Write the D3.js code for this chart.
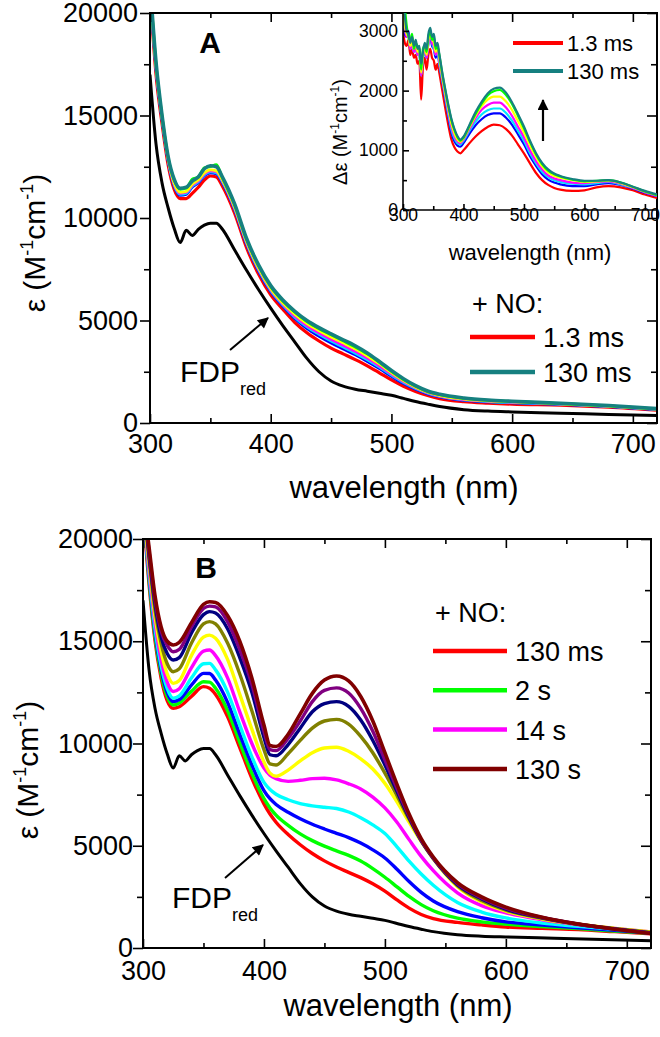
<!DOCTYPE html>
<html><head><meta charset="utf-8">
<script src="https://cdn.jsdelivr.net/npm/d3@7"></script>
<style>body{margin:0;background:#fff}</style>
</head><body><svg id="c" width="660" height="1037" xmlns="http://www.w3.org/2000/svg"></svg>
<script>
// ---------------- DATA ----------------
// wavelength grid for FDPred and panel A spectra
const wlA = [300,305,310,315,320,325,330,335,340,345,350,355,360,370,380,390,400,410,420,430,440,450,460,470,480,490,500,510,520,530,540,560,580,600,640,680,720];
const fdpRed = [17000,13600,11700,10500,9500,8800,9400,9150,9450,9650,9750,9750,9450,8450,7450,6500,5600,4750,3950,3150,2500,2050,1800,1650,1550,1450,1350,1200,1050,920,800,650,580,540,480,420,360];
const aRed = [21000,17000,14600,12600,11400,10950,10950,11200,11500,11850,12050,12000,11550,10250,8550,7250,6250,5550,4900,4400,4000,3650,3370,3090,2790,2450,2100,1790,1540,1340,1190,1040,970,920,870,770,620];
const aBlue = [21200,17200,14750,12750,11550,11100,11150,11500,11700,12050,12200,12150,11700,10400,8700,7400,6400,5700,5080,4600,4230,3900,3610,3320,3000,2650,2270,1920,1640,1420,1270,1100,1030,980,910,800,650];
const aCyan = [21200,17250,14800,12800,11600,11150,11200,11550,11750,12100,12250,12200,11750,10450,8750,7450,6450,5750,5150,4680,4320,3990,3700,3400,3080,2720,2330,1970,1680,1450,1290,1120,1040,990,920,810,660];
const aMagenta = [21300,17300,14850,12850,11650,11200,11250,11600,11800,12150,12300,12250,11800,10500,8800,7500,6500,5800,5200,4750,4400,4080,3790,3490,3160,2790,2390,2020,1720,1470,1310,1140,1060,1010,930,820,670];
const aYellow = [21400,17400,14900,12900,11700,11250,11300,11650,11850,12200,12350,12300,11850,10550,8850,7550,6550,5850,5300,4850,4500,4200,3910,3610,3270,2880,2460,2070,1750,1500,1340,1170,1080,1030,940,830,680];
const aGreen = [21500,17500,14950,12950,11850,11400,11450,11900,12000,12450,12500,12600,11950,10650,8950,7650,6650,5950,5400,4950,4600,4300,4010,3710,3370,2960,2520,2120,1790,1530,1380,1200,1100,1050,950,840,690];
const aTeal = [21500,17600,15000,13000,11900,11450,11500,11800,12000,12400,12550,12500,12000,10700,9000,7700,6700,6000,5450,5000,4650,4350,4060,3770,3420,3000,2560,2160,1820,1560,1400,1220,1120,1060,960,850,700];

// inset (difference spectra)
const wlI = [300,303,306,309,312,315,318,321,324,327,330,333,336,339,342,345,348,351,354,357,360,365,370,375,380,385,390,395,400,410,420,430,440,450,460,470,480,490,500,510,520,530,540,550,560,580,600,620,640,660,680,700,720];
const iRed = [3000,2800,2750,2850,2600,2700,2550,2600,2450,2500,1850,2400,2550,2350,2600,2700,2550,2500,2350,2450,2300,2000,1700,1420,1180,1050,980,950,1000,1120,1230,1320,1390,1430,1420,1360,1250,1100,950,780,620,500,420,370,340,320,330,380,400,380,330,260,200];
const iBlue = [3150,2950,2900,3000,2750,2800,2700,2750,2600,2650,2300,2550,2700,2550,2800,2900,2750,2700,2550,2650,2450,2150,1850,1560,1300,1150,1080,1060,1120,1280,1420,1520,1590,1620,1620,1550,1430,1270,1100,900,740,600,510,460,430,400,400,430,450,420,360,290,230];
const iCyan = [3200,3000,2950,2900,2700,2750,2650,2700,2600,2600,2250,2550,2700,2550,2800,2950,2800,2700,2600,2650,2450,2170,1880,1600,1350,1200,1120,1100,1160,1330,1480,1600,1670,1700,1700,1630,1500,1330,1160,950,780,640,550,500,470,440,430,450,470,430,370,300,240];
const iMagenta = [3250,3050,2900,2950,2700,2800,2650,2750,2600,2650,2250,2600,2700,2550,2800,2950,2800,2750,2600,2700,2500,2200,1920,1650,1400,1240,1150,1120,1180,1360,1540,1680,1760,1800,1800,1720,1580,1400,1220,1000,820,680,580,530,500,460,450,470,480,440,370,300,240];
const iYellow = [3300,3100,2950,2900,2750,2800,2700,2800,2650,2700,2300,2600,2750,2600,2850,2950,2850,2800,2650,2750,2550,2230,1950,1690,1450,1280,1180,1140,1200,1390,1580,1740,1850,1900,1900,1820,1680,1490,1300,1080,890,730,630,570,540,500,470,480,490,450,380,310,250];
const iGreen = [3700,3400,3100,2900,2850,2950,2700,2800,2750,2700,2350,2700,2750,2650,2900,3000,2850,2900,2700,2750,2600,2280,2000,1740,1510,1340,1220,1160,1210,1410,1610,1780,1920,1990,2010,1930,1780,1580,1370,1140,930,770,660,600,560,510,480,490,500,460,390,310,250];
const iTeal = [3600,3250,3000,2950,2800,2900,2750,2850,2700,2750,2450,2650,2800,2700,2950,3050,2900,2950,2750,2800,2620,2300,2020,1760,1530,1360,1240,1180,1230,1430,1640,1810,1950,2030,2050,1970,1810,1610,1400,1160,950,790,680,610,570,520,490,490,500,460,390,320,260];

// panel B
const wlB = [300,305,310,315,320,325,330,340,350,355,360,370,380,390,400,405,410,420,430,440,450,460,470,480,490,500,510,520,530,540,560,580,600,630,660,690,720];
const b130ms = [21500,17800,15000,13200,12100,11720,11800,12300,12780,12700,12400,11300,9800,8300,7050,6550,6150,5550,5050,4620,4260,3960,3700,3440,3140,2780,2350,1950,1640,1440,1250,1130,1030,960,900,800,700];
const b2s = [21500,18000,15200,13400,12300,11880,11980,12550,13020,13000,12700,11600,10050,8550,7300,6850,6500,6000,5580,5250,4980,4750,4530,4250,3880,3460,2990,2520,2120,1820,1460,1280,1170,1050,950,830,720];
const bBlue = [21500,18200,15400,13600,12500,12050,12150,12850,13430,13420,13100,12000,10450,8950,7700,7300,7020,6640,6320,6050,5820,5610,5400,5130,4800,4400,3850,3250,2720,2300,1780,1480,1280,1120,990,860,730];
const bCyan = [21500,18300,15600,13800,12700,12210,12330,13200,13900,13920,13600,12500,10900,9350,8100,7750,7520,7250,7060,6950,6880,6820,6650,6370,6020,5600,4950,4250,3620,3070,2230,1760,1470,1220,1060,910,760];
const b14s = [21500,18500,15900,14100,13000,12540,12680,13700,14520,14570,14300,13200,11550,10000,8800,8450,8280,8150,8200,8280,8300,8220,8030,7780,7380,6850,6150,5300,4480,3780,2700,2070,1720,1380,1140,960,790];
const bYellow = [21500,18800,16200,14500,13400,12940,13080,14300,15200,15300,15150,14100,12400,10700,9100,8550,8400,8700,9150,9550,9780,9820,9620,9250,8750,8050,7150,6150,5200,4350,3000,2250,1800,1420,1160,960,780];
const bOlive = [22000,19000,16500,14900,13900,13510,13650,14900,15850,15960,15850,14900,13400,11600,9700,9000,8950,9500,10150,10750,11100,11180,10950,10350,9550,8550,7450,6300,5250,4400,3050,2320,1850,1450,1160,950,760];
const bNavy = [22000,19200,16800,15200,14400,14080,14200,15400,16300,16450,16380,15600,14200,12500,10300,9450,9400,9950,10750,11550,11950,12050,11820,11150,10150,8950,7650,6380,5250,4380,3100,2400,1900,1480,1160,930,740];
const bPurple = [22000,19400,17000,15500,14800,14490,14600,15700,16600,16720,16680,15950,14600,12900,10600,9700,9650,10250,11100,12050,12600,12720,12470,11720,10600,9200,7800,6450,5270,4400,3150,2450,1950,1490,1160,920,720];
const b130s = [22000,19600,17200,15700,15000,14820,14950,15900,16800,16930,16900,16250,15000,13200,10900,9900,9850,10450,11450,12450,13100,13300,13060,12300,11100,9550,8000,6550,5350,4450,3200,2500,2000,1500,1170,920,710];

const xMajor = [300,400,500,600,700], xMinor = [350,450,550,650];
const yMajor = [0,5000,10000,15000,20000], yMinor = [2500,7500,12500,17500];
const iyMajor = [0,1000,2000,3000], iyMinor = [500,1500,2500];
const legendA = ["1.3 ms","130 ms"];
const legendB = ["130 ms","2 s","14 s","130 s"];

// ---------------- DRAW ----------------
const FONT = '"Liberation Sans", Arial, Helvetica, sans-serif';
const svg = d3.select("#c").attr("font-family", FONT);
const defs = svg.append("defs");
defs.append("marker").attr("id","ah").attr("viewBox","0 0 10 10").attr("refX",9).attr("refY",5)
  .attr("markerWidth",13).attr("markerHeight",11).attr("markerUnits","userSpaceOnUse").attr("orient","auto")
  .append("path").attr("d","M0,0 L10,5 L0,10 z").attr("fill","#000");

const zip = (w, v) => w.map((d,i)=>[d, v[i]]);

function styleAxis(sel, fs) {
  sel.select(".domain").remove();
  sel.selectAll("line").attr("stroke","#000").attr("stroke-width",1.6);
  sel.selectAll("text").attr("font-size",fs).attr("fill","#000").attr("font-family",FONT);
}

function mainPanel(cfg) {
  const x = d3.scaleLinear().domain([300,720]).range([cfg.L, cfg.R]);
  const y = d3.scaleLinear().domain([0,20000]).range([cfg.B, cfg.T]);
  const g = svg.append("g");
  const cid = "clip" + cfg.id;
  defs.append("clipPath").attr("id", cid).append("rect")
    .attr("x", cfg.L).attr("y", cfg.T).attr("width", cfg.R - cfg.L).attr("height", cfg.B - cfg.T);
  const line = d3.line().x(d=>x(d[0])).y(d=>y(d[1])).curve(d3.curveMonotoneX);
  const lg = g.append("g").attr("clip-path", `url(#${cid})`);
  cfg.series.forEach(s => {
    lg.append("path").attr("d", line(zip(s.w, s.v))).attr("fill","none")
      .attr("stroke", s.c).attr("stroke-width", s.sw).attr("stroke-linejoin","round");
  });
  const fs = 27;
  g.append("g").attr("transform",`translate(0,${cfg.B})`)
    .call(d3.axisBottom(x).tickValues(xMajor).tickSize(-9).tickPadding(cfg.xpad).tickFormat(d3.format("d"))).call(s=>styleAxis(s,fs));
  g.append("g").attr("transform",`translate(0,${cfg.B})`)
    .call(d3.axisBottom(x).tickValues(xMinor).tickSize(-5).tickFormat("")).call(s=>styleAxis(s,fs));
  g.append("g").attr("transform",`translate(0,${cfg.T})`)
    .call(d3.axisTop(x).tickValues(xMajor).tickSize(-9).tickFormat("")).call(s=>styleAxis(s,fs));
  g.append("g").attr("transform",`translate(0,${cfg.T})`)
    .call(d3.axisTop(x).tickValues(xMinor).tickSize(-5).tickFormat("")).call(s=>styleAxis(s,fs));
  g.append("g").attr("transform",`translate(${cfg.L},0)`)
    .call(d3.axisLeft(y).tickValues(yMajor).tickSize(10).tickPadding(cfg.ypad).tickFormat(d3.format("d"))).call(s=>styleAxis(s,fs));
  g.append("g").attr("transform",`translate(${cfg.L},0)`)
    .call(d3.axisLeft(y).tickValues(yMinor).tickSize(6).tickFormat("")).call(s=>styleAxis(s,fs));
  g.append("g").attr("transform",`translate(${cfg.R},0)`)
    .call(d3.axisRight(y).tickValues(yMajor).tickSize(-10).tickFormat("")).call(s=>styleAxis(s,fs));
  g.append("g").attr("transform",`translate(${cfg.R},0)`)
    .call(d3.axisRight(y).tickValues(yMinor).tickSize(-6).tickFormat("")).call(s=>styleAxis(s,fs));
  g.append("rect").attr("x",cfg.L).attr("y",cfg.T).attr("width",cfg.R-cfg.L).attr("height",cfg.B-cfg.T)
    .attr("fill","none").attr("stroke","#000").attr("stroke-width",2);
  g.append("text").attr("x", cfg.xtX).attr("y", cfg.xtY).attr("text-anchor","middle")
    .attr("font-size",31).text("wavelength (nm)");
  const yt = g.append("text").attr("transform",`translate(${cfg.ytX},${cfg.ytY}) rotate(-90)`)
    .attr("text-anchor","middle").attr("font-size",30);
  yt.append("tspan").text("ε (M");
  yt.append("tspan").attr("font-size",18).attr("dy",-12).text("-1");
  yt.append("tspan").attr("dy",12).text("cm");
  yt.append("tspan").attr("font-size",18).attr("dy",-12).text("-1");
  yt.append("tspan").attr("dy",12).text(")");
  g.append("text").attr("x",cfg.letX).attr("y",cfg.letY).attr("text-anchor","middle")
    .attr("font-size",30).attr("font-weight","bold").text(cfg.letter);
  const ft = g.append("text").attr("x",cfg.fdpX).attr("y",cfg.fdpY).attr("font-size",30);
  ft.append("tspan").text("FDP");
  ft.append("tspan").attr("font-size",18).attr("dy",13).text("red");
  g.append("line").attr("x1",cfg.arr[0]).attr("y1",cfg.arr[1]).attr("x2",cfg.arr[2]).attr("y2",cfg.arr[3])
    .attr("stroke","#000").attr("stroke-width",2).attr("marker-end","url(#ah)");
  const leg = g.append("g");
  leg.append("text").attr("x",cfg.legX+2).attr("y",cfg.legY).attr("font-size",27).text("+ NO:");
  cfg.legend.forEach((d,i)=>{
    const yy = cfg.legY + cfg.legFirst + i*cfg.legStep;
    leg.append("line").attr("x1",cfg.legX).attr("x2",cfg.legX+cfg.legLen).attr("y1",yy).attr("y2",yy)
      .attr("stroke",d.c).attr("stroke-width",4.5);
    leg.append("text").attr("x",cfg.legX+cfg.legLen+8).attr("y",yy+10).attr("font-size",27).text(d.t);
  });
  return {x,y,g};
}

// Panel A
mainPanel({
  id:"A", L:150, R:657, T:13, B:423, xpad:11, ypad:2,
  xtX:404, xtY:498, ytX:45, ytY:243, letter:"A", letX:210, letY:53,
  fdpX:180, fdpY:382, arr:[230,350,268,318],
  legX:470, legY:313, legFirst:24, legStep:35, legLen:65,
  legend:[{t:legendA[0],c:"#ff0000"},{t:legendA[1],c:"#168080"}],
  series:[
    {w:wlA,v:aRed,c:"#ff0000",sw:3.2},
    {w:wlA,v:aBlue,c:"#0000ff",sw:2.6},
    {w:wlA,v:aCyan,c:"#00e5ff",sw:2.6},
    {w:wlA,v:aMagenta,c:"#ff00ff",sw:2.6},
    {w:wlA,v:aYellow,c:"#ffff00",sw:2.8},
    {w:wlA,v:aGreen,c:"#00ff00",sw:2.8},
    {w:wlA,v:aTeal,c:"#168080",sw:3.6},
    {w:wlA,v:fdpRed,c:"#000000",sw:3}
  ]
});

// Inset of panel A
(function(){
  const L=403, R=657, T=13, B=210;
  const x = d3.scaleLinear().domain([300,720]).range([L,R]);
  const y = d3.scaleLinear().domain([0,3300]).range([B,T]);
  const g = svg.append("g");
  defs.append("clipPath").attr("id","clipI").append("rect").attr("x",L).attr("y",T).attr("width",R-L).attr("height",B-T);
  const line = d3.line().x(d=>x(d[0])).y(d=>y(d[1])).curve(d3.curveMonotoneX);
  const lg = g.append("g").attr("clip-path","url(#clipI)");
  [[iRed,"#ff0000"],[iBlue,"#0000ff"],[iCyan,"#00e5ff"],[iMagenta,"#ff00ff"],[iYellow,"#ffff00"],[iGreen,"#00ff00"],[iTeal,"#168080"]]
    .forEach(([v,c])=>lg.append("path").attr("d",line(zip(wlI,v))).attr("fill","none").attr("stroke",c).attr("stroke-width",2.2).attr("stroke-linejoin","round"));
  const fs = 17.5;
  g.append("g").attr("transform",`translate(0,${B})`)
    .call(d3.axisBottom(x).tickValues(xMajor).tickSize(-6).tickPadding(-1).tickFormat(d3.format("d"))).call(s=>styleAxis(s,fs));
  g.append("g").attr("transform",`translate(0,${B})`)
    .call(d3.axisBottom(x).tickValues(xMinor).tickSize(-4).tickFormat("")).call(s=>styleAxis(s,fs));
  g.append("g").attr("transform",`translate(${L},0)`)
    .call(d3.axisLeft(y).tickValues(iyMajor).tickSize(-6).tickPadding(5).tickFormat(d3.format("d"))).call(s=>styleAxis(s,fs));
  g.append("g").attr("transform",`translate(${L},0)`)
    .call(d3.axisLeft(y).tickValues(iyMinor).tickSize(-4).tickFormat("")).call(s=>styleAxis(s,fs));
  g.append("line").attr("x1",L).attr("x2",L).attr("y1",T).attr("y2",B).attr("stroke","#000").attr("stroke-width",1.6);
  g.append("line").attr("x1",L).attr("x2",R).attr("y1",B).attr("y2",B).attr("stroke","#000").attr("stroke-width",1.6);
  g.append("text").attr("x",530).attr("y",260).attr("text-anchor","middle").attr("font-size",22).text("wavelength (nm)");
  const yt = g.append("text").attr("transform","translate(347,132) rotate(-90)").attr("text-anchor","middle").attr("font-size",20);
  yt.append("tspan").text("Δε (M");
  yt.append("tspan").attr("font-size",12).attr("dy",-8).text("-1");
  yt.append("tspan").attr("dy",8).text("cm");
  yt.append("tspan").attr("font-size",12).attr("dy",-8).text("-1");
  yt.append("tspan").attr("dy",8).text(")");
  [[legendA[0],"#ff0000",43],[legendA[1],"#168080",71]].forEach(([t,c,yy])=>{
    g.append("line").attr("x1",513).attr("x2",563).attr("y1",yy).attr("y2",yy).attr("stroke",c).attr("stroke-width",4);
    g.append("text").attr("x",567).attr("y",yy+8).attr("font-size",22).text(t);
  });
  g.append("line").attr("x1",543).attr("y1",141).attr("x2",543).attr("y2",100)
    .attr("stroke","#000").attr("stroke-width",2.2).attr("marker-end","url(#ah)");
})();

// Panel B
mainPanel({
  id:"B", L:143, R:651, T:539, B:948, xpad:13, ypad:0,
  xtX:398, xtY:1016, ytX:38, ytY:770, letter:"B", letX:206, letY:578,
  fdpX:172, fdpY:908, arr:[225,878,263,845],
  legX:433, legY:622, legFirst:29, legStep:39.3, legLen:74,
  legend:[{t:legendB[0],c:"#ff0000"},{t:legendB[1],c:"#00ff00"},{t:legendB[2],c:"#ff00ff"},{t:legendB[3],c:"#800000"}],
  series:[
    {w:wlB,v:b130ms,c:"#ff0000",sw:3.4},
    {w:wlB,v:b2s,c:"#00ff00",sw:3.4},
    {w:wlB,v:bBlue,c:"#0000ff",sw:3.4},
    {w:wlB,v:bCyan,c:"#00ffff",sw:3.4},
    {w:wlB,v:b14s,c:"#ff00ff",sw:3.4},
    {w:wlB,v:bYellow,c:"#ffff00",sw:3.4},
    {w:wlB,v:bOlive,c:"#808000",sw:3.4},
    {w:wlB,v:bNavy,c:"#000080",sw:3.4},
    {w:wlB,v:bPurple,c:"#800080",sw:3.4},
    {w:wlB,v:b130s,c:"#800000",sw:3.6},
    {w:wlA,v:fdpRed,c:"#000000",sw:3}
  ]
});
</script></body></html>
